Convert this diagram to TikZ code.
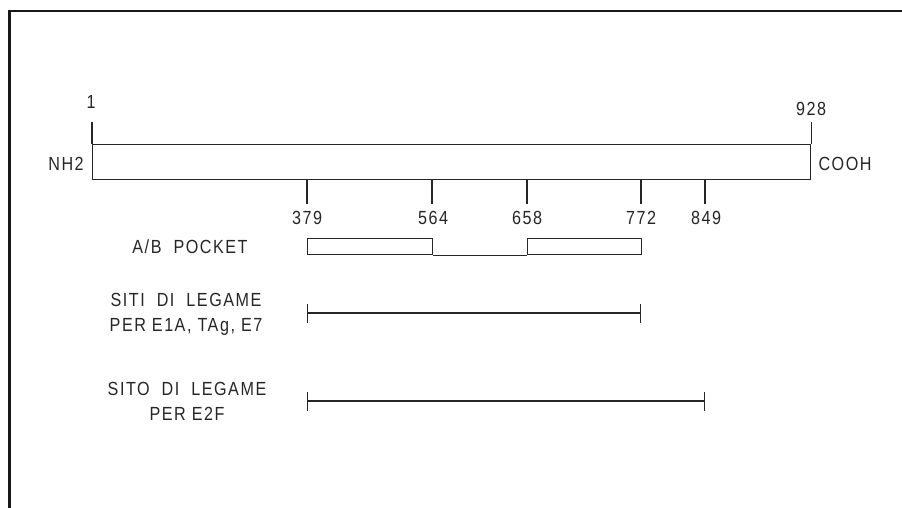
\documentclass[tikz,border=0pt]{standalone}
\usepackage{fontspec}
\setmainfont{Liberation Sans}
\newfontfamily\cadfont[FakeStretch=0.85, LetterSpace=8]{Liberation Sans}
\usetikzlibrary{arrows.meta, positioning}

\begin{document}
\begin{tikzpicture}[
    x=1pt, y=-1pt,
    frame/.style={line width=2.6pt, black!90},
    part/.style={line width=1.3pt, black!85},
    tag/.style={font=\cadfont\fontsize{19}{25}\selectfont, inner sep=0pt, text=black!85},
    siterange/.style={part, {Bar[width=19pt, line width=1.3pt]}-{Bar[width=19pt, line width=1.3pt]}}
]
\useasboundingbox (0,0) rectangle (902,508);

% Frame
\draw[frame] (902,11) -- (9.5,11) -- (9.5,508);

% Protein chain
\node[draw, part, anchor=north west, minimum width=718pt, minimum height=35pt, inner sep=0pt] (chain) at (92,144) {};
\draw[part] (chain.north west) -- ++(0,-22) coordinate (n1);
\draw[part] (chain.north east) -- ++(0,-22) coordinate (n928);
\node[tag, anchor=base] (l1) at (91,109) {1};
\node[tag, anchor=base] (l928) at (811,116) {928};
\node[tag, anchor=base] (nterm) at (66,170) {NH2};
\node[tag, anchor=base] (cterm) at (845,170) {COOH};

% Residue marks
\coordinate (a379) at (307,179);
\coordinate (a564) at (432,179);
\coordinate (a658) at (527,179);
\coordinate (a772) at (641,179);
\coordinate (a849) at (705,179);
\draw[part] (a379) -- ++(0,25);
\draw[part] (a564) -- ++(0,25);
\draw[part] (a658) -- ++(0,25);
\draw[part] (a772) -- ++(0,25);
\draw[part] (a849) -- ++(0,25);
\node[tag, anchor=base] (l379) at (307,224) {379};
\node[tag, anchor=base] (l564) at (433,224) {564};
\node[tag, anchor=base] (l658) at (527,224) {658};
\node[tag, anchor=base] (l772) at (641,224) {772};
\node[tag, anchor=base] (l849) at (706,224) {849};

% A/B pocket
\node[tag, anchor=base] (pocket) at (190,253) {A/B\ \ POCKET};
\node[draw, part, anchor=north west, minimum width=125pt, minimum height=16pt, inner sep=0pt] (boxA) at (307,238) {};
\node[draw, part, anchor=north west, minimum width=114pt, minimum height=16pt, inner sep=0pt] (boxB) at (527,238) {};
\draw[part] (boxA.south east) -- (boxB.south west);

% Binding sites
\node[tag, anchor=north, align=center] (siti) at (186,293) {SITI\ \ DI\ \ LEGAME\\PER E1A, TAg, E7};
\coordinate (s379) at (307,313);
\coordinate (s772) at (641,313);
\draw[siterange] (s379) -- (s772);

\node[tag, anchor=north, align=center] (sito) at (187,382) {SITO\ \ DI\ \ LEGAME\\PER E2F};
\coordinate (e379) at (307,401);
\coordinate (e849) at (705,401);
\draw[siterange] (e379) -- (e849);

\end{tikzpicture}
\end{document}
